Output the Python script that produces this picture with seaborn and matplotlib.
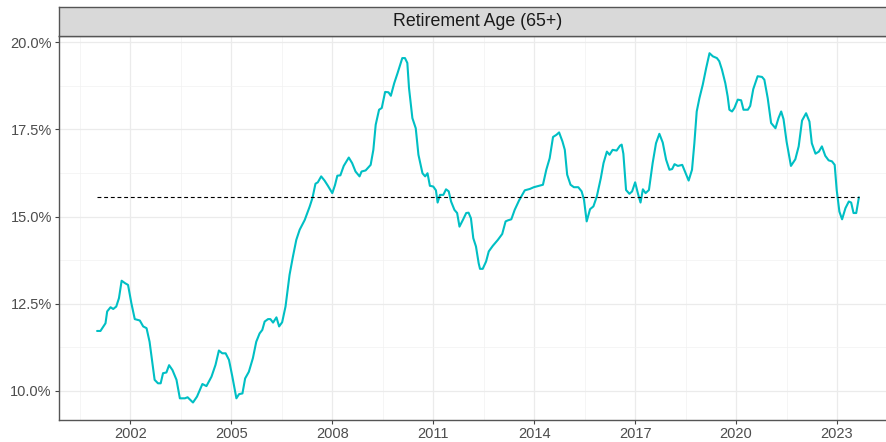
import numpy as np
import pandas as pd
import matplotlib
matplotlib.use("Agg")
import matplotlib.pyplot as plt
import seaborn as sns
from matplotlib.ticker import FixedLocator, FuncFormatter

# share of 65+ (retirement age)
years = [2001.01, 2001.11, 2001.26, 2001.31, 2001.41, 2001.49, 2001.58, 2001.66, 2001.74, 2001.84,
         2001.93, 2002.03, 2002.13, 2002.28, 2002.38, 2002.48, 2002.57, 2002.72, 2002.82, 2002.90,
         2002.97, 2003.07, 2003.15, 2003.25, 2003.37, 2003.47, 2003.62, 2003.70, 2003.86, 2003.98,
         2004.14, 2004.26, 2004.41, 2004.53, 2004.63, 2004.73, 2004.83, 2004.93, 2005.03, 2005.15,
         2005.23, 2005.33, 2005.41, 2005.52, 2005.64, 2005.74, 2005.84, 2005.92, 2005.99, 2006.09,
         2006.16, 2006.24, 2006.34, 2006.42, 2006.51, 2006.61, 2006.73, 2006.83, 2006.93, 2007.03,
         2007.18, 2007.33, 2007.41, 2007.50, 2007.57, 2007.67, 2007.77, 2007.87, 2008.00, 2008.08,
         2008.15, 2008.24, 2008.34, 2008.49, 2008.59, 2008.69, 2008.81, 2008.87, 2008.99, 2009.14,
         2009.22, 2009.29, 2009.39, 2009.47, 2009.57, 2009.67, 2009.74, 2009.84, 2009.94, 2010.08,
         2010.16, 2010.23, 2010.28, 2010.38, 2010.48, 2010.56, 2010.68, 2010.76, 2010.83, 2010.90,
         2011.00, 2011.08, 2011.13, 2011.20, 2011.30, 2011.38, 2011.46, 2011.53, 2011.63, 2011.71,
         2011.78, 2011.88, 2011.98, 2012.05, 2012.12, 2012.19, 2012.27, 2012.35, 2012.39, 2012.47,
         2012.57, 2012.65, 2012.77, 2012.92, 2013.05, 2013.15, 2013.22, 2013.32, 2013.42, 2013.55,
         2013.72, 2013.87, 2013.99, 2014.14, 2014.26, 2014.36, 2014.46, 2014.56, 2014.66, 2014.74,
         2014.84, 2014.91, 2014.98, 2015.08, 2015.18, 2015.31, 2015.41, 2015.48, 2015.56, 2015.66,
         2015.76, 2015.86, 2015.98, 2016.06, 2016.16, 2016.24, 2016.33, 2016.45, 2016.55, 2016.60,
         2016.65, 2016.73, 2016.83, 2016.91, 2017.00, 2017.08, 2017.16, 2017.23, 2017.31, 2017.41,
         2017.52, 2017.62, 2017.72, 2017.82, 2017.92, 2018.02, 2018.10, 2018.17, 2018.27, 2018.40,
         2018.50, 2018.59, 2018.69, 2018.76, 2018.83, 2018.91, 2019.01, 2019.11, 2019.21, 2019.31,
         2019.43, 2019.50, 2019.58, 2019.68, 2019.75, 2019.80, 2019.88, 2019.95, 2020.05, 2020.15,
         2020.22, 2020.35, 2020.42, 2020.51, 2020.64, 2020.77, 2020.84, 2020.94, 2021.04, 2021.17,
         2021.26, 2021.34, 2021.41, 2021.50, 2021.63, 2021.76, 2021.86, 2021.96, 2022.08, 2022.18,
         2022.25, 2022.36, 2022.46, 2022.55, 2022.65, 2022.75, 2022.85, 2022.93, 2022.99, 2023.07,
         2023.15, 2023.25, 2023.35, 2023.42, 2023.49, 2023.57, 2023.65]
share = [11.72, 11.72, 11.94, 12.28, 12.40, 12.35, 12.42, 12.66, 13.16, 13.09,
         13.04, 12.51, 12.06, 12.02, 11.85, 11.80, 11.41, 10.32, 10.22, 10.22,
         10.51, 10.53, 10.74, 10.60, 10.32, 9.79, 9.79, 9.82, 9.67, 9.84,
         10.20, 10.14, 10.41, 10.75, 11.16, 11.08, 11.08, 10.89, 10.41, 9.79,
         9.91, 9.93, 10.36, 10.55, 10.94, 11.41, 11.65, 11.75, 11.99, 12.06,
         12.06, 11.96, 12.11, 11.85, 11.97, 12.42, 13.33, 13.85, 14.33, 14.62,
         14.90, 15.29, 15.53, 15.94, 15.98, 16.15, 16.03, 15.88, 15.67, 15.90,
         16.17, 16.18, 16.45, 16.69, 16.53, 16.29, 16.15, 16.29, 16.32, 16.48,
         16.91, 17.63, 18.06, 18.11, 18.57, 18.56, 18.46, 18.82, 19.11, 19.54,
         19.54, 19.40, 18.68, 17.82, 17.53, 16.77, 16.24, 16.15, 16.24, 15.88,
         15.86, 15.75, 15.40, 15.62, 15.62, 15.78, 15.72, 15.43, 15.19, 15.10,
         14.71, 14.90, 15.10, 15.11, 14.95, 14.38, 14.14, 13.66, 13.50, 13.50,
         13.71, 14.00, 14.16, 14.33, 14.50, 14.86, 14.89, 14.92, 15.19, 15.46,
         15.75, 15.79, 15.84, 15.88, 15.91, 16.34, 16.67, 17.28, 17.34, 17.41,
         17.15, 16.91, 16.20, 15.91, 15.84, 15.84, 15.72, 15.48, 14.86, 15.21,
         15.29, 15.57, 16.10, 16.53, 16.86, 16.77, 16.91, 16.89, 17.03, 17.06,
         16.80, 15.76, 15.65, 15.72, 15.98, 15.67, 15.40, 15.78, 15.67, 15.76,
         16.53, 17.10, 17.37, 17.12, 16.63, 16.34, 16.36, 16.50, 16.45, 16.48,
         16.24, 16.03, 16.34, 17.10, 18.01, 18.39, 18.78, 19.25, 19.68, 19.59,
         19.54, 19.45, 19.21, 18.82, 18.44, 18.06, 18.01, 18.11, 18.35, 18.33,
         18.06, 18.06, 18.17, 18.65, 19.02, 19.00, 18.92, 18.39, 17.68, 17.53,
         17.82, 18.01, 17.79, 17.15, 16.45, 16.64, 17.01, 17.75, 17.96, 17.72,
         17.10, 16.80, 16.86, 17.01, 16.74, 16.61, 16.58, 16.48, 15.76, 15.14,
         14.92, 15.24, 15.43, 15.40, 15.10, 15.10, 15.55]
avg_share = 15.55

x_ticks = [2002, 2005, 2008, 2011, 2014, 2017, 2020, 2023]
y_ticks = [10, 12.5, 15, 17.5, 20]
panel_title = "Retirement Age (65+)"

df = pd.DataFrame({"year": years, "share": share})

sns.set_theme(style="white")
plt.rcParams['font.family'] = ['Liberation Sans', 'DejaVu Sans']

fig = plt.figure(figsize=(8.87, 4.42), dpi=100)
# panel runs past the right edge (the reference is cropped there)
ax = fig.add_axes([0.0662, 0.0491, 0.945, 0.870])

sns.lineplot(data=df, x="year", y="share", color="#00BFC4", linewidth=1.5, ax=ax)
ax.hlines(avg_share, df["year"].min(), df["year"].max(), colors="black",
          linestyles=(0, (3.5, 2.5)), linewidth=0.8)

ax.set_xlim(1999.87, 2024.78)
ax.set_ylim(9.16, 20.18)

ax.xaxis.set_major_locator(FixedLocator(x_ticks))
ax.xaxis.set_minor_locator(FixedLocator([t - 1.5 for t in x_ticks] + [x_ticks[-1] + 1.5]))
ax.yaxis.set_major_locator(FixedLocator(y_ticks))
ax.yaxis.set_minor_locator(FixedLocator([t - 1.25 for t in y_ticks]))
ax.set_xticklabels([str(t) for t in x_ticks])
ax.yaxis.set_major_formatter(FuncFormatter(lambda v, p: f"{v:.1f}%"))

ax.grid(which="major", color="#EBEBEB", linewidth=0.9)
ax.grid(which="minor", color="#F2F2F2", linewidth=0.5)
ax.set_axisbelow(True)

ax.tick_params(axis="both", which="major", length=3, width=0.8, color="#444444",
               labelsize=10.5, labelcolor="#4D4D4D", pad=2, bottom=True, left=True)
ax.tick_params(which="minor", length=0)
for s in ax.spines.values():
    s.set_color("#555555")
    s.set_linewidth(1.0)
ax.set_xlabel("")
ax.set_ylabel("")

# facet strip on top, same width as the panel
strip = fig.add_axes([0.0662, 0.919, 0.945, 0.0656])
strip.set_facecolor("#D9D9D9")
strip.set_xticks([])
strip.set_yticks([])
for s in strip.spines.values():
    s.set_color("#555555")
    s.set_linewidth(1.0)
strip.text(0.5, 0.48, panel_title, transform=strip.transAxes, ha="center", va="center",
           fontsize=12.8, color="#1A1A1A")

fig.savefig("out.png", dpi=100)
